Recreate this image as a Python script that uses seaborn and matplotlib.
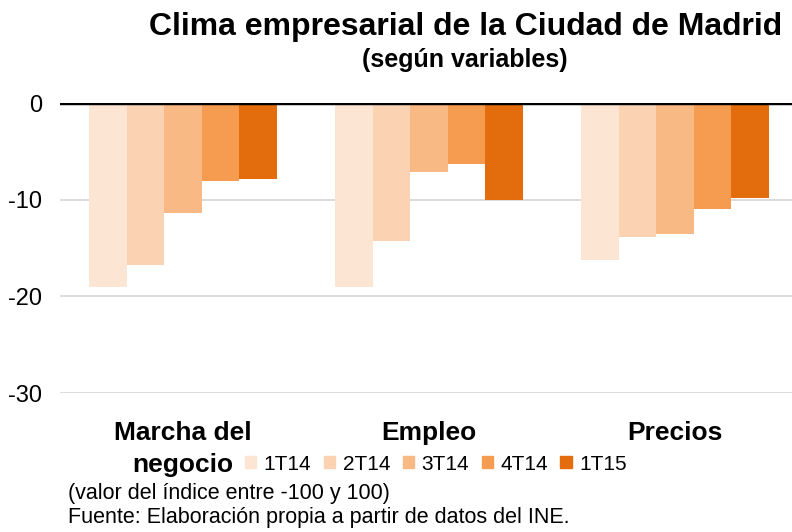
import pandas as pd
import seaborn as sns
import matplotlib.pyplot as plt

# Business climate index by variable and quarter
categorias = ['Marcha del\nnegocio', 'Empleo', 'Precios']
trimestres = ['1T14', '2T14', '3T14', '4T14', '1T15']
v_1t14 = [-19.0, -19.0, -16.2]
v_2t14 = [-16.8, -14.3, -13.9]
v_3t14 = [-11.4, -7.1, -13.5]
v_4t14 = [-8.1, -6.3, -11.0]
v_1t15 = [-7.9, -10.0, -9.8]

series = [v_1t14, v_2t14, v_3t14, v_4t14, v_1t15]
rows = []
for t, vals in zip(trimestres, series):
    for c, v in zip(categorias, vals):
        rows.append({'categoria': c, 'trimestre': t, 'valor': v})
df = pd.DataFrame(rows)

colores = ['#FDE5D3', '#FBD3B3', '#F9B985', '#F69C50', '#E36C0C']

sns.set_style('white')
plt.rcParams['font.family'] = ['Liberation Sans', 'DejaVu Sans']
plt.rcParams['text.color'] = 'black'
plt.rcParams['xtick.color'] = 'black'
plt.rcParams['ytick.color'] = 'black'

fig = plt.figure(figsize=(7.92, 5.32), dpi=100)
ax = fig.add_axes([60 / 792, 1 - 393 / 532, 738 / 792, 290 / 532])

sns.barplot(data=df, x='categoria', y='valor', hue='trimestre', hue_order=trimestres,
            palette=colores, width=0.765, saturation=1, linewidth=0, ax=ax)

ax.set_ylim(-30, 0)
ax.set_yticks([0, -10, -20, -30])
ax.set_yticklabels(['0', '-10', '-20', '-30'], fontsize=17)
ax.yaxis.grid(True, color='#d9d9d9', linewidth=1.3)
ax.set_axisbelow(True)
ax.axhline(0, color='black', linewidth=3.2, zorder=5)
for s in ax.spines.values():
    s.set_visible(False)
ax.tick_params(axis='y', length=0, pad=13)
ax.tick_params(axis='x', length=0, pad=20)
ax.set_xticklabels(categorias, fontsize=19, fontweight='bold', linespacing=1.45, va='top')
ax.set_xlabel('')
ax.set_ylabel('')

ax.legend_.remove()
handles = [plt.Rectangle((0, 0), 1, 1, color=c) for c in colores]
fig.legend(handles, trimestres, loc='center left', bbox_to_anchor=(245 / 792, 1 - 464 / 532),
           ncol=5, frameon=False, fontsize=15, handlelength=0.55, handleheight=0.55,
           handletextpad=0.35, columnspacing=0.6, borderaxespad=0, borderpad=0)

fig.text(782 / 792, 1 - 27 / 532, 'Clima empresarial de la Ciudad de Madrid',
         ha='right', va='center', fontsize=23, fontweight='bold')
fig.text(465 / 792, 1 - 60 / 532, '(según variables)',
         ha='center', va='center', fontsize=18, fontweight='bold')
fig.text(68 / 792, 1 - 493 / 532, '(valor del índice entre -100 y 100)',
         ha='left', va='center', fontsize=15.5)
fig.text(68 / 792, 1 - 518 / 532, 'Fuente: Elaboración propia a partir de datos del INE.',
         ha='left', va='center', fontsize=15.5)

plt.savefig('out.png', dpi=100)
